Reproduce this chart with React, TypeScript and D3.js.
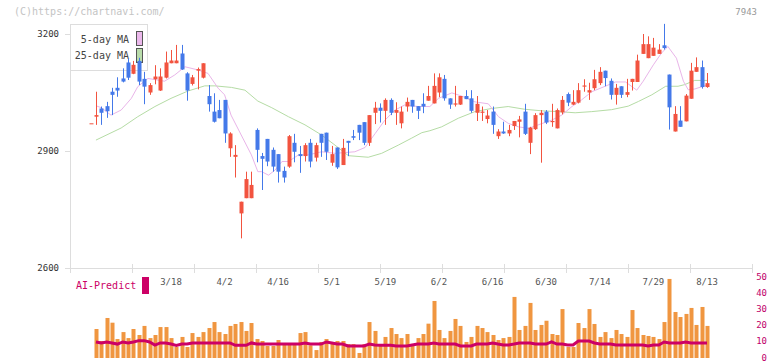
import React from 'react';
import * as d3 from 'd3';

// daily candles, index 0 .. 115 (8/13 is the last)
const openP = [2971, 2988, 3009, 3015, 3052, 3062, 3086, 3127, 3098, 3131, 3085, 3050, 3084, 3055, 3088, 3125, 3125, 3150, 3099, 3072, 3106, 3088, 3041, 3001, 3005, 3031, 2907, 2885, 2740, 2779, 2779, 2954, 2887, 2931, 2903, 2892, 2849, 2860, 2921, 2892, 2887, 2921, 2883, 2944, 2947, 2870, 2909, 2864, 2926, 2938, 2967, 2974, 2921, 2998, 3011, 3003, 3031, 2998, 2971, 3014, 3031, 3015, 3021, 3029, 3022, 3050, 3085, 3035, 3019, 3019, 3041, 3035, 2998, 2998, 2982, 3001, 2938, 2950, 2945, 2964, 2975, 3001, 2921, 2956, 2992, 3001, 2974, 2958, 2999, 3046, 3019, 3024, 3065, 3050, 3061, 3074, 3106, 3080, 3044, 3066, 3044, 3077, 3077, 3149, 3138, 3144, 3149, 3171, 3096, 2950, 2978, 2976, 3034, 3103, 3115, 3064];
const highP = [2971, 3052, 3014, 3026, 3062, 3089, 3112, 3138, 3131, 3139, 3103, 3074, 3120, 3112, 3155, 3159, 3172, 3172, 3102, 3095, 3114, 3125, 3069, 3048, 3031, 3031, 2948, 2915, 2770, 2847, 2847, 2958, 2895, 2931, 2909, 2892, 2860, 2941, 2944, 2913, 2920, 2931, 2921, 2944, 2947, 2913, 2909, 2931, 2926, 2954, 2967, 2974, 2992, 3026, 3022, 3035, 3035, 3025, 3014, 3037, 3031, 3015, 3048, 3067, 3099, 3099, 3095, 3035, 3067, 3041, 3056, 3056, 3041, 3014, 3005, 3014, 2956, 2975, 2967, 2977, 2990, 3021, 2962, 2997, 3005, 3005, 3021, 3009, 3041, 3050, 3056, 3074, 3084, 3075, 3108, 3115, 3106, 3086, 3072, 3066, 3085, 3085, 3147, 3200, 3194, 3190, 3174, 3226, 3096, 3015, 3015, 3046, 3126, 3140, 3132, 3100];
const lowP = [2971, 2967, 2967, 2985, 2992, 3039, 3076, 3082, 3097, 3069, 3020, 3044, 3071, 3054, 3086, 3125, 3125, 3108, 3029, 3068, 3058, 3086, 3001, 2973, 2984, 2921, 2885, 2832, 2676, 2779, 2779, 2871, 2800, 2861, 2847, 2819, 2819, 2857, 2871, 2844, 2873, 2858, 2873, 2885, 2877, 2862, 2854, 2864, 2887, 2928, 2928, 2915, 2913, 2969, 2973, 2967, 2992, 2967, 2958, 3001, 2998, 2982, 2997, 3029, 3022, 3038, 3029, 3008, 3014, 3018, 3033, 2998, 2977, 2977, 2971, 2944, 2931, 2944, 2938, 2954, 2935, 2941, 2892, 2954, 2870, 2969, 2962, 2958, 2994, 3015, 3018, 3022, 3052, 3031, 3056, 3069, 3066, 3032, 3019, 3036, 3038, 3055, 3077, 3149, 3138, 3144, 3149, 3160, 2955, 2950, 2962, 2976, 3034, 3103, 3060, 3062];
const closeP = [2971, 2992, 2998, 3002, 3044, 3055, 3078, 3088, 3121, 3078, 3065, 3069, 3091, 3091, 3127, 3132, 3132, 3109, 3055, 3089, 3110, 3125, 3020, 2975, 2984, 2945, 2945, 2890, 2770, 2828, 2813, 2903, 2880, 2873, 2860, 2847, 2832, 2938, 2898, 2887, 2915, 2873, 2915, 2921, 2898, 2892, 2858, 2908, 2921, 2934, 2947, 2921, 2992, 3011, 3003, 3031, 2998, 3005, 3001, 3026, 3014, 3003, 3014, 3041, 3067, 3089, 3035, 3019, 3022, 3041, 3033, 3003, 3021, 3001, 2991, 2967, 2950, 2945, 2954, 2977, 2981, 2944, 2960, 2992, 2998, 2973, 2977, 3005, 3031, 3024, 3026, 3056, 3068, 3056, 3084, 3103, 3087, 3044, 3062, 3044, 3051, 3085, 3132, 3174, 3174, 3165, 3160, 3164, 3012, 2995, 2962, 3042, 3106, 3115, 3064, 3074];

// volume (bottom panel), index 0 has no bar
const volume = [0, 17.9, 10.5, 24.7, 21.8, 11.7, 16, 12.3, 17.9, 14.2, 19.8, 12.3, 14.2, 19.1, 19.1, 12.3, 6.8, 13, 6.8, 15.4, 13, 16, 18.5, 22.2, 16, 14.8, 19.8, 21, 22.2, 16.7, 21.6, 11.7, 10.5, 7.4, 7.4, 11.1, 8.6, 8.6, 8.6, 15.4, 16, 7.8, 4.9, 9.9, 11.7, 9.3, 10.5, 10.5, 8.6, 8.6, 3.1, 8.6, 22.2, 16.7, 7.4, 13, 18.5, 14.8, 12.3, 14.8, 8.6, 12.3, 14.8, 21.2, 35.2, 17.3, 12.3, 16.7, 24.1, 19.8, 9.9, 13, 19.8, 18.5, 16, 14.2, 11.1, 12.3, 13, 37.7, 17.3, 19.8, 34, 17.3, 20.4, 23, 14.8, 14.2, 30.2, 6.8, 6.8, 21.6, 18.5, 30.2, 21, 13, 16, 12.3, 17.3, 14.8, 13, 29.6, 18.5, 14.2, 13.6, 13, 11.7, 22.2, 48.8, 28.4, 25.3, 27.2, 30.9, 20.4, 31.5, 19.8];
const predict = [NaN, 9.9, 9.3, 9.9, 9.3, 8.6, 9.9, 9.3, 9.9, 10.7, 10.7, 9.9, 8.0, 9.3, 9.3, 8.6, 7.8, 8.6, 8.6, 9.3, 9.3, 9.3, 9.3, 9.3, 9.3, 9.3, 9.3, 7.8, 7.8, 7.8, 9.3, 8.6, 8.6, 8.6, 8.6, 8.6, 8.6, 8.6, 8.6, 8.6, 9.3, 8.6, 8.6, 8.6, 9.9, 9.3, 8.6, 8.6, 7.4, 7.4, 7.4, 7.4, 8.6, 8.0, 7.8, 7.8, 7.8, 7.4, 7.4, 7.4, 8.0, 8.6, 8.6, 8.6, 9.3, 8.6, 8.6, 8.6, 8.6, 7.4, 7.4, 7.4, 8.6, 8.6, 8.6, 9.3, 8.6, 8.0, 8.0, 8.6, 9.3, 9.3, 9.3, 8.6, 8.6, 8.6, 9.9, 8.6, 8.6, 8.0, 8.0, 10.5, 10.5, 10.5, 9.3, 8.6, 8.6, 8.6, 8.0, 8.0, 8.0, 8.0, 8.0, 8.0, 7.4, 8.0, 8.0, 9.9, 9.3, 9.3, 9.3, 9.9, 9.3, 9.3, 9.3, 9.3];

// moving averages: [candle index, price]
const ma5Pts: [number, number][] = [[1, 3016], [2, 3011], [3.8, 2992], [5.7, 3005], [7.6, 3035], [8.8, 3065], [10.7, 3086], [13.8, 3079], [15.7, 3095], [17.6, 3116], [20, 3108], [21.9, 3099], [23.8, 3061], [25, 3044], [26.2, 2992], [28.1, 2941], [30, 2890], [31.2, 2847], [31.9, 2847], [33.2, 2838], [34.4, 2851], [35.7, 2873], [36.9, 2873], [38.8, 2890], [40.6, 2890], [43.1, 2898], [45.6, 2894], [47.5, 2896], [49.3, 2898], [51.2, 2909], [53.1, 2945], [54.9, 2979], [56.8, 3005], [58.6, 3018], [61.1, 3014], [63.3, 3014], [64.9, 3035], [67.4, 3049], [69.2, 3041], [71.7, 3026], [74.2, 3021], [76.1, 2988], [77.9, 2971], [79.8, 2962], [81.7, 2958], [83.5, 2967], [86, 2979], [87.9, 2992], [89.8, 3014], [91.6, 3031], [93.5, 3052], [96, 3066], [97.9, 3077], [99.8, 3077], [101.9, 3056], [103.1, 3079], [105, 3121], [106.5, 3151], [107.7, 3168], [109.3, 3138], [110.6, 3079], [111.5, 3057], [112.7, 3059], [115, 3069]];
const ma25Pts: [number, number][] = [[1, 2928], [5.7, 2959], [8.8, 2988], [12, 3014], [15, 3035], [18.2, 3054], [21.3, 3067], [23.2, 3067], [26.3, 3063], [28.8, 3056], [31.2, 3028], [33.8, 3011], [36.9, 2988], [40, 2967], [43.1, 2941], [45.6, 2915], [48.1, 2888], [51.8, 2884], [54.3, 2894], [57.4, 2915], [59.9, 2933], [61.8, 2947], [63.3, 2952], [65.5, 2962], [68.6, 2984], [71.7, 3001], [74.8, 3009], [77.9, 3014], [81, 3007], [84.2, 3003], [87.3, 3001], [90.4, 2998], [93.5, 3001], [97.2, 3006], [100.3, 3015], [102.2, 3027], [104.7, 3044], [107.3, 3066], [109.6, 3066], [110.8, 3070], [112.7, 3081], [115, 3081]];

const dateLabels = ['3/18', '4/2', '4/16', '5/1', '5/19', '6/2', '6/16', '6/30', '7/14', '7/29', '8/13'];
const dateIdx = [15, 25, 35, 45, 55, 65, 75, 85, 95, 105, 115];
const priceTicks = [2600, 2900, 3200];
const volTicks = [0, 10, 20, 30, 40, 50];

const UP = '#f2533f';
const DOWN = '#4479e9';
const FONT = "'DejaVu Sans Mono', monospace";

export default function App() {
  const x = d3.scaleLinear().domain([0, 115]).range([90.6, 707]);
  const y = d3.scaleLinear().domain([2600, 3200]).range([268, 34]);
  const yv = d3.scaleLinear().domain([0, 50]).range([358, 277]);
  const frame = d3.scaleLinear().domain([0, 11]).range([70, 752]);

  const maLine = d3.line<[number, number]>().x((d) => x(d[0])).y((d) => y(d[1]));
  const predLine = d3.line<number>()
    .defined((d) => !isNaN(d))
    .x((_, i) => x(i))
    .y((d) => yv(d));

  const cx = (i: number) => Math.round(x(i));

  return (
    <svg width={772} height={361} style={{ position: 'absolute', left: 0, top: 0, background: '#fff' }} fontFamily={FONT}>
      <text x={14} y={12} dominantBaseline="middle" fontSize={10} fill="#c4c4c4">(C)https://chartnavi.com/</text>
      <text x={757} y={12} dominantBaseline="middle" textAnchor="end" fontSize={9} fill="#999">7943</text>

      {/* legend box sits under the candles */}
      <rect x={70.5} y={24.5} width={77} height={46} fill="#fff" stroke="#ddd" />
      <text x={129} y={40} dominantBaseline="middle" textAnchor="end" fontSize={10} fill="#444">5-day MA</text>
      <rect x={136.5} y={31.5} width={6} height={14} fill="#ebb8eb" stroke="#555" />
      <text x={129} y={56} dominantBaseline="middle" textAnchor="end" fontSize={10} fill="#444">25-day MA</text>
      <rect x={136.5} y={48.5} width={6} height={14} fill="#b9dcab" stroke="#555" />

      {/* frame */}
      <line x1={70.5} x2={70.5} y1={70} y2={268.5} stroke="#ddd" />
      <line x1={65} x2={752} y1={268.5} y2={268.5} stroke="#ddd" />
      {d3.range(0, 12).map((k) => (
        <line key={k} x1={Math.round(frame(k)) + 0.5} x2={Math.round(frame(k)) + 0.5} y1={264} y2={273} stroke="#ddd" />
      ))}
      {priceTicks.map((t) => (
        <g key={t}>
          <line x1={65} x2={70} y1={Math.round(y(t)) + 0.5} y2={Math.round(y(t)) + 0.5} stroke="#ddd" />
          <text x={59} y={y(t)} dominantBaseline="middle" textAnchor="end" fontSize={9} fill="#333">{t}</text>
        </g>
      ))}
      {dateLabels.map((l, k) => (
        <text key={l} x={x(dateIdx[k])} y={282} dominantBaseline="middle" textAnchor="middle" fontSize={9} fill="#555">{l}</text>
      ))}

      {/* moving averages */}
      <path d={maLine(ma25Pts) || ''} fill="none" stroke="#b5dca5" strokeWidth={1} />
      <path d={maLine(ma5Pts) || ''} fill="none" stroke="#e9b5e9" strokeWidth={1} />

      {/* candles */}
      {openP.map((o, i) => {
        const c = closeP[i];
        const col = c >= o ? UP : DOWN;
        const top = y(Math.max(o, c));
        const h = Math.max(1, y(Math.min(o, c)) - top);
        return (
          <g key={i}>
            <line x1={cx(i) + 0.5} x2={cx(i) + 0.5} y1={y(highP[i])} y2={y(lowP[i])} stroke={col} />
            <rect x={cx(i) - 1.5} y={top} width={4} height={h} fill={col} />
          </g>
        );
      })}

      {/* AI predict panel */}
      <text x={76} y={286} dominantBaseline="middle" fontSize={10} fill="#cc0066">AI-Predict</text>
      <rect x={142} y={277} width={7} height={17} fill="#cc0066" />
      {volTicks.map((t) => (
        <text key={t} x={767} y={yv(t)} dominantBaseline="middle" textAnchor="end" fontSize={9} fill="#c0006a">{t}</text>
      ))}
      {volume.map((v, i) => (v > 0 ? (
        <rect key={i} x={cx(i) - 1.5} y={yv(v)} width={4} height={yv(0) - yv(v)} fill="#f09640" />
      ) : null))}
      <path d={predLine(predict) || ''} fill="none" stroke="#cc0066" strokeWidth={3} />
    </svg>
  );
}
